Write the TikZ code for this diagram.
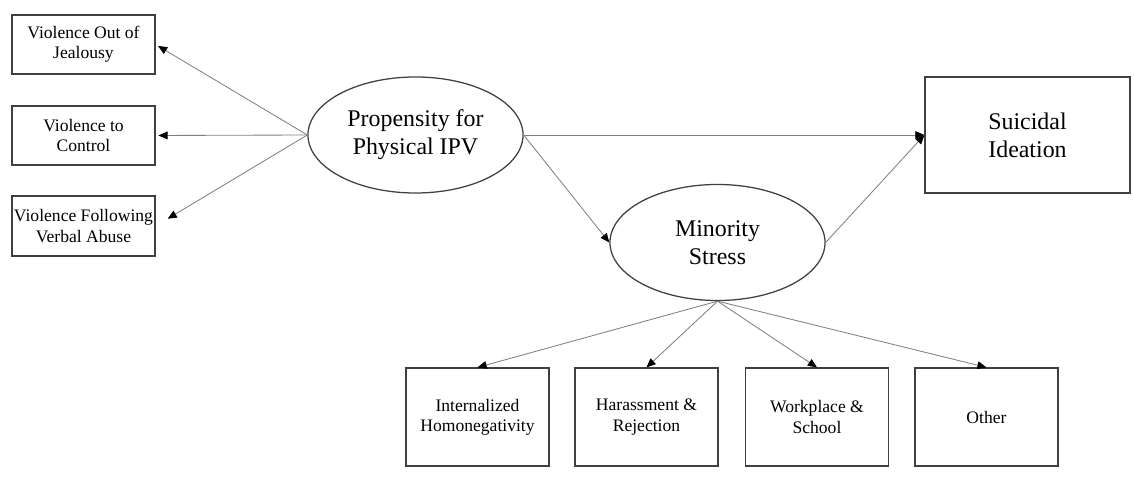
\documentclass[tikz,border=0pt]{standalone}
\usepackage{fontspec}
\setmainfont{Liberation Serif}
\usetikzlibrary{positioning}
\usetikzlibrary{arrows.meta}
\usetikzlibrary{shapes.geometric}

\begin{document}
\begin{tikzpicture}[x=0.025cm, y=-0.025cm]
    \colorlet{border}{black!75}
\colorlet{link}{black!50}

\newcommand\itemw{3.575cm}
\newcommand\latentw{5.375cm}
\newcommand\latenth{2.9cm}

    \useasboundingbox (0, 0) rectangle (1134, 477);

\begin{scope}
    \tikzset{
        item box/.style={
            draw=border, line width=0.8pt, rectangle,
            minimum width=\itemw,
            inner sep=0pt, align=center,
            font=\fontsize{12.5}{14.5}\selectfont,
        },
        latent/.style={
            draw=border, line width=0.9pt, ellipse,
            minimum width=\latentw,
            minimum height=\latenth,
            inner sep=0pt, align=center,
            font=\fontsize{17}{20}\selectfont,
        },
        outcome/.style={
            draw=border, line width=0.8pt, rectangle,
            minimum width=5.125cm,
            minimum height=2.9cm,
            inner sep=0pt, align=center,
            font=\fontsize{17}{20}\selectfont,
        },
    }

    % indicators of propensity
    \node[item box, minimum height=1.475cm] at (83.5, 44.5) (jealousy)
        {Violence Out of\\Jealousy};
    \node[item box, minimum height=1.475cm] at (83.5, 135.5) (control)
        {Violence to\\Control};
    \node[item box, minimum height=1.5cm] at (83.5, 226) (verbal)
        {Violence Following\\Verbal Abuse};

    \node[latent] at (415.5, 135) (propensity) {Propensity for\\Physical IPV};
    \node[latent] at (717.5, 242.5) (minority) {Minority\\Stress};
    \node[outcome] at (1027.5, 135) (suicidal) {Suicidal\\Ideation};

    % indicators of minority stress
    \node[item box, minimum height=2.45cm] at (477.5, 417) (internal)
        {Internalized\\Homonegativity};
    \node[item box, minimum height=2.45cm] at (646.5, 417) (harass)
        {Harassment \&\\Rejection};
    \node[item box, minimum height=2.45cm] at (817, 417) (work)
        {Workplace \&\\School};
    \node[item box, minimum height=2.45cm] at (986.5, 417) (other)
        {Other};
\end{scope}

    \draw[link, line width=0.6pt, -{Triangle[length=6.5pt, width=5.5pt, color=black]}, shorten >=2pt]
        (propensity.west) -- (jealousy.east);
    \draw[link, line width=0.6pt, -{Triangle[length=6.5pt, width=5.5pt, color=black]}, shorten >=2pt]
        (propensity.west) -- (control.east);
    \draw[link, line width=0.6pt, -{Triangle[length=6.5pt, width=5.5pt, color=black]}, shorten >=10pt]
        (propensity.west) -- (verbal.east);

    \draw[link, line width=0.6pt, -{Triangle[length=6.5pt, width=5.5pt, color=black]}]
        (propensity.east) -- (suicidal.west);
    \draw[link, line width=0.6pt, -{Triangle[length=6.5pt, width=5.5pt, color=black]}]
        (propensity.east) -- (minority.west);
    \draw[link, line width=0.6pt, -{Triangle[length=6.5pt, width=5.5pt, color=black]}]
        (minority.east) -- (suicidal.west);

    \foreach \target in {internal, harass, work, other}
        \draw[link, line width=0.6pt, -{Triangle[length=6.5pt, width=5.5pt, color=black]}]
            (minority.south) -- (\target.north);
\end{tikzpicture}
\end{document}
